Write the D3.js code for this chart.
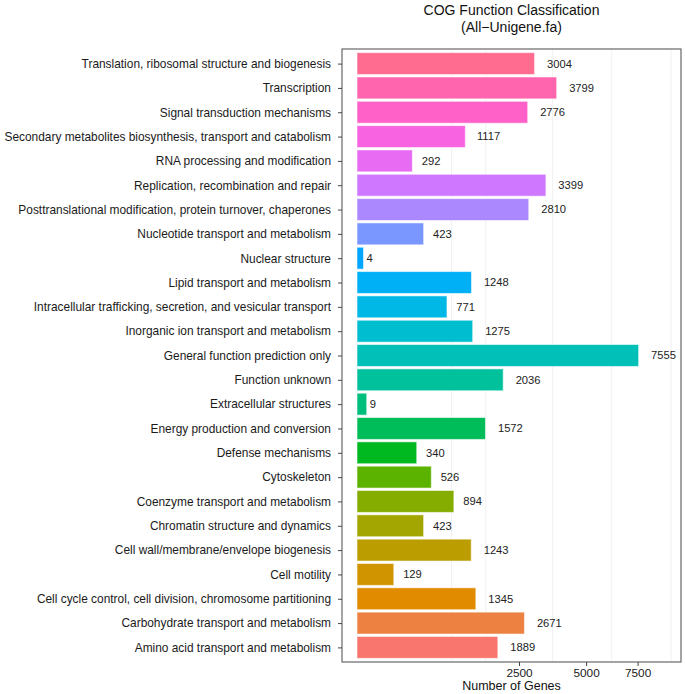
<!DOCTYPE html>
<html>
<head>
<meta charset="utf-8">
<script src="https://cdn.jsdelivr.net/npm/d3@7"></script>
<style>
  html, body { margin: 0; padding: 0; background: #fff; }
  svg { display: block; font-family: "Liberation Sans", Arial, Helvetica, sans-serif; }
</style>
</head>
<body>
<svg id="chart" width="685" height="694"></svg>
<script>
// ---- data (top to bottom as drawn) ----
const categories = [
  "Translation, ribosomal structure and biogenesis",
  "Transcription",
  "Signal transduction mechanisms",
  "Secondary metabolites biosynthesis, transport and catabolism",
  "RNA processing and modification",
  "Replication, recombination and repair",
  "Posttranslational modification, protein turnover, chaperones",
  "Nucleotide transport and metabolism",
  "Nuclear structure",
  "Lipid transport and metabolism",
  "Intracellular trafficking, secretion, and vesicular transport",
  "Inorganic ion transport and metabolism",
  "General function prediction only",
  "Function unknown",
  "Extracellular structures",
  "Energy production and conversion",
  "Defense mechanisms",
  "Cytoskeleton",
  "Coenzyme transport and metabolism",
  "Chromatin structure and dynamics",
  "Cell wall/membrane/envelope biogenesis",
  "Cell motility",
  "Cell cycle control, cell division, chromosome partitioning",
  "Carbohydrate transport and metabolism",
  "Amino acid transport and metabolism"
];
const geneCounts = [3004, 3799, 2776, 1117, 292, 3399, 2810, 423, 4, 1248, 771, 1275, 7555, 2036, 9, 1572, 340, 526, 894, 423, 1243, 129, 1345, 2671, 1889];
const xTicks = [2500, 5000, 7500];
const gridValues = [851, 1578, 3648, 6180, 9400];
const titleLines = ["COG Function Classification", "(All\u2212Unigene.fa)"];
const xTitle = "Number of Genes";

// ---- ggplot-like hue palette (HCL polarLUV) ----
function hclLuv(h, c, l) {
  const hr = h * Math.PI / 180;
  const U = c * Math.cos(hr), V = c * Math.sin(hr);
  const Y = l > 8 ? 100 * Math.pow((l + 16) / 116, 3) : 100 * l / 903.3;
  const un = 0.1978398, vn = 0.4683363;
  const up = U / (13 * l) + un, vp = V / (13 * l) + vn;
  const X = 9.0 * Y * up / (4 * vp);
  const Z = -X / 3 - 5 * Y + 3 * Y / vp;
  const x = X / 100, y = Y / 100, z = Z / 100;
  let r = 3.240479 * x - 1.53715 * y - 0.498535 * z;
  let g = -0.969256 * x + 1.875992 * y + 0.041556 * z;
  let b = 0.055648 * x - 0.204043 * y + 1.057311 * z;
  const gam = t => t > 0.00304 ? 1.055 * Math.pow(t, 1 / 2.4) - 0.055 : 12.92 * t;
  const cl = t => Math.max(0, Math.min(1, t));
  return d3.rgb(cl(gam(r)) * 255, cl(gam(g)) * 255, cl(gam(b)) * 255).formatHex();
}
const n = categories.length;
const hueStart = 15, hueEnd = 375 - 360 / n;
// palette index 0 = bottom category (alphabetical first level)
const palette = d3.range(n).map(i => hclLuv(hueStart + (hueEnd - hueStart) * i / (n - 1), 100, 65));
const colorOf = i => palette[n - 1 - i];

// ---- layout ----
const svg = d3.select("#chart");
const panel = { left: 342, right: 681, top: 49, bottom: 662 };

const x = d3.scalePow().exponent(0.5).domain([0, 10000]).range([357, 681]);
const y = d3.scalePoint().domain(categories).range([panel.top, panel.bottom]).padding(0.6);
const bandH = y.step() * 0.9;

// gridlines
svg.append("g").selectAll("line").data(gridValues).join("line")
  .attr("x1", d => x(d)).attr("x2", d => x(d))
  .attr("y1", panel.top).attr("y2", panel.bottom)
  .attr("stroke", "#f1f1f1").attr("stroke-width", 1);

// bars
const data = categories.map((c, i) => ({ c, v: geneCounts[i], i }));
svg.append("g").selectAll("rect").data(data).join("rect")
  .attr("x", x(0))
  .attr("y", d => y(d.c) - bandH / 2)
  .attr("width", d => x(d.v) - x(0))
  .attr("height", bandH)
  .attr("fill", d => colorOf(d.i))
  .attr("stroke", "#ffffff").attr("stroke-opacity", 0.55).attr("stroke-width", 1);

// value labels (hjust = -0.5)
const lbl = svg.append("g").selectAll("text").data(data).join("text")
  .attr("y", d => y(d.c))
  .attr("dy", "0.35em")
  .attr("font-size", 11.2)
  .attr("fill", "#222")
  .text(d => d.v);
lbl.each(function(d) {
  const w = this.getComputedTextLength();
  d3.select(this).attr("x", x(d.v) + 0.5 * w);
});

// panel border
svg.append("rect")
  .attr("x", panel.left).attr("y", panel.top)
  .attr("width", panel.right - panel.left).attr("height", panel.bottom - panel.top)
  .attr("fill", "none").attr("stroke", "#5a5a5a").attr("stroke-width", 1.1);

// y axis
const yAxis = svg.append("g").attr("transform", `translate(${panel.left},0)`)
  .call(d3.axisLeft(y).tickSize(4).tickPadding(7));
yAxis.select(".domain").remove();
yAxis.selectAll(".tick line").attr("stroke", "#444");
yAxis.selectAll(".tick text").attr("font-size", 11.9).attr("fill", "#1a1a1a")
  .attr("font-family", "\"Liberation Sans\", Arial, sans-serif");

// x axis
const xAxis = svg.append("g").attr("transform", `translate(0,${panel.bottom})`)
  .call(d3.axisBottom(x).tickValues(xTicks).tickSize(4).tickPadding(3).tickFormat(d3.format("d")));
xAxis.select(".domain").remove();
xAxis.selectAll(".tick line").attr("stroke", "#444");
xAxis.selectAll(".tick text").attr("font-size", 11.8).attr("fill", "#1a1a1a")
  .attr("font-family", "\"Liberation Sans\", Arial, sans-serif");

// axis title
svg.append("text")
  .attr("x", (panel.left + panel.right) / 2).attr("y", 690)
  .attr("text-anchor", "middle").attr("font-size", 12.5).attr("fill", "#111")
  .text(xTitle);

// title
svg.append("g").selectAll("text").data(titleLines).join("text")
  .attr("x", (panel.left + panel.right) / 2)
  .attr("y", (d, i) => 15 + i * 17)
  .attr("text-anchor", "middle").attr("font-size", 14).attr("fill", "#111")
  .text(d => d);
</script>
</body>
</html>
